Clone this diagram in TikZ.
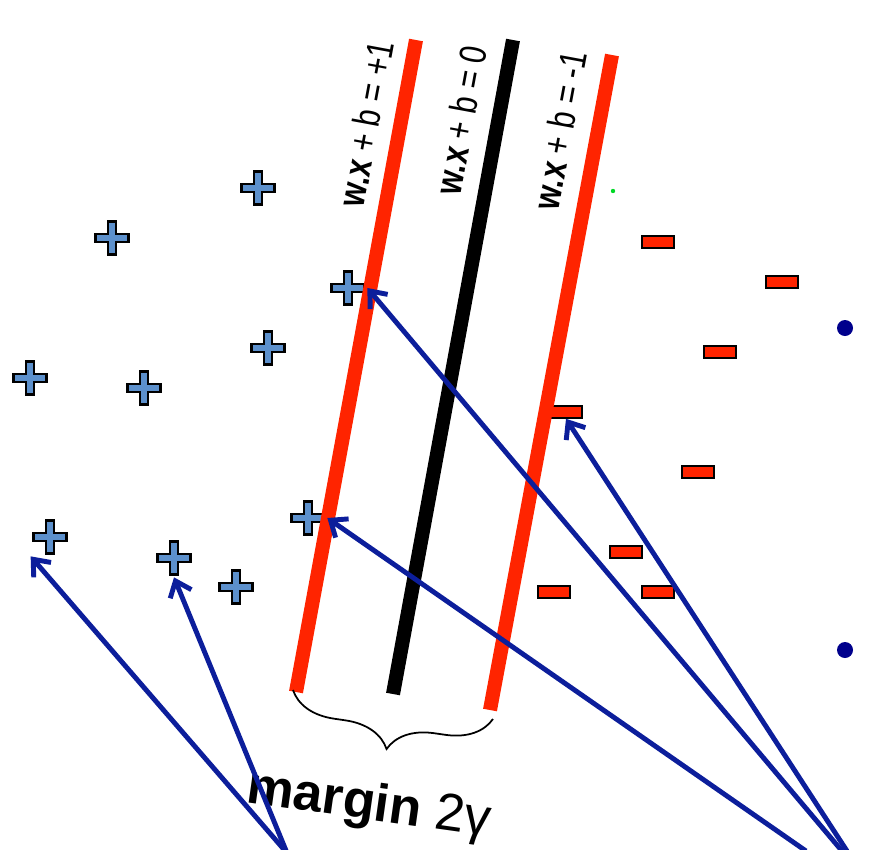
\documentclass[tikz,border=0pt]{standalone}
\usepackage{fontspec}
\setmainfont{Liberation Sans}
\newfontfamily\lblfont[FakeStretch=0.8]{Liberation Sans}
\usetikzlibrary{arrows.meta,positioning,decorations.pathreplacing}
\definecolor{hypred}{RGB}{255,36,0}
\definecolor{plusblue}{RGB}{92,144,204}
\definecolor{arrowblue}{RGB}{12,30,155}
\definecolor{dotblue}{RGB}{0,0,140}

\begin{document}
\begin{tikzpicture}[x=0.02cm, y=-0.02cm,
  plus/.style={minimum size=0.76cm, inner sep=0pt,
               path picture={\draw[fill=plusblue, line width=1.2pt,
                 shift={(path picture bounding box.center)}]
                 (-0.085cm,0.33cm) -- (0.085cm,0.33cm) -- (0.085cm,0.085cm) -- (0.33cm,0.085cm)
                 -- (0.33cm,-0.085cm) -- (0.085cm,-0.085cm) -- (0.085cm,-0.33cm) -- (-0.085cm,-0.33cm)
                 -- (-0.085cm,-0.085cm) -- (-0.33cm,-0.085cm) -- (-0.33cm,0.085cm) -- (-0.085cm,0.085cm) -- cycle;}},
  minus/.style={rectangle, draw=black, fill=hypred, line width=1.2pt, inner sep=0pt,
                minimum width=0.64cm, minimum height=0.23cm},
  dot/.style={circle, fill=dotblue, inner sep=0pt, minimum size=0.32cm},
  plane/.style={line width=8pt},
  lbl/.style={rotate=79.5, font=\lblfont\fontsize{21.5}{24}\selectfont},
  arr/.style={line width=2.8pt, draw=arrowblue, -{Straight Barb[length=8pt,width=13pt]}},
]
  \useasboundingbox (0,0) rectangle (875,849);

  % Positive examples
  \node[plus] (p1) at (258,188) {};
  \node[plus] (p2) at (112,238) {};
  \node[plus] (p3) at (348,288) {};
  \node[plus] (p4) at (268,348) {};
  \node[plus] (p5) at (30,378) {};
  \node[plus] (p6) at (144,388) {};
  \node[plus] (p7) at (308,518) {};
  \node[plus] (p8) at (50,537) {};
  \node[plus] (p9) at (174,558) {};
  \node[plus] (p10) at (236,587) {};

  % Negative examples
  \node[minus] (m1) at (658,242) {};
  \node[minus] (m2) at (782,282) {};
  \node[minus] (m3) at (720,352) {};
  \node[minus] (m4) at (566,412) {};
  \node[minus] (m5) at (698,472) {};
  \node[minus] (m6) at (626,552) {};
  \node[minus] (m7) at (554,592) {};
  \node[minus] (m8) at (658,592) {};

  \node[dot] (d1) at (845,328) {};
  \node[dot] (d2) at (845,650) {};
  \node[circle, fill=green!70!teal, inner sep=0pt, minimum size=2.5pt] (g) at (613,191) {};

  % Hyperplanes
  \coordinate (r1b) at (296,692);
  \coordinate (r1t) at (416,40);
  \coordinate (h0b) at (393,694);
  \coordinate (h0t) at (513,40);
  \coordinate (r2b) at (490,710);
  \coordinate (r2t) at (612,55);
  \draw[plane, hypred] (r1b) -- (r1t);
  \draw[plane, black] (h0b) -- (h0t);
  \draw[plane, hypred] (r2b) -- (r2t);

  \node[lbl] (l1) at (366,124) {{\bfseries w.x} + b = +1};
  \node[lbl] (l0) at (461,120) {{\bfseries w.x} + b = 0};
  \node[lbl] (l2) at (560,130) {{\bfseries w.x} + b = -1};

  % Margin brace
  \coordinate (bl) at (293,690);
  \coordinate (br) at (493,719);
  \draw[line width=1pt, decorate, decoration={brace, mirror, amplitude=0.9cm}] (bl) -- (br);
  \node[rotate=-8, font=\fontsize{30}{34}\selectfont] (marg) at (369,806)
    {\bfseries margin \mdseries 2γ};

  % Support vector arrows
  \coordinate (srcL) at (287,853);
  \coordinate (srcA) at (806,851);
  \coordinate (srcB) at (842,851);
  \coordinate (srcC) at (847,851);
  \draw[arr] (srcL) -- (p8.south west);
  \draw[arr] (srcL) -- (p9.south);
  \draw[arr] (srcA) -- (p7.east);
  \draw[arr] (srcB) -- (p3.east);
  \draw[arr] (srcC) -- (m4.south);
\end{tikzpicture}
\end{document}
